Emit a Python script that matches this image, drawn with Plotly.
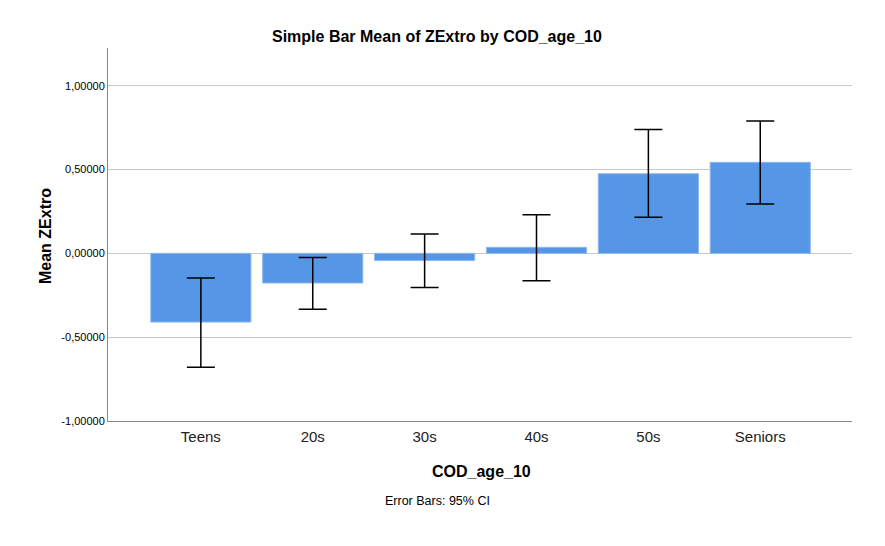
import plotly.graph_objects as go

categories = ["Teens", "20s", "30s", "40s", "50s", "Seniors"]
means = [-0.410, -0.177, -0.043, 0.036, 0.475, 0.543]
ci_upper = [-0.147, -0.025, 0.116, 0.230, 0.739, 0.790]
ci_lower = [-0.680, -0.334, -0.203, -0.163, 0.215, 0.295]
y_ticks = [-1.0, -0.5, 0.0, 0.5, 1.0]
y_tick_labels = ["-1,00000", "-0,50000", "0,00000", "0,50000", "1,00000"]

err_plus = [u - m for u, m in zip(ci_upper, means)]
err_minus = [m - l for m, l in zip(means, ci_lower)]

OFF = 8  # page body margin
W, H = 885 - OFF, 546 - OFF
L, R, T, B = 100, 33, 40, 125
PW, PH = W - L - R, H - T - B


def px(x):
    return (x - OFF - L) / PW


def py(y):
    return (H - B - (y - OFF)) / PH


fig = go.Figure()
fig.add_trace(go.Bar(
    x=categories, y=means,
    marker=dict(color="#5596e6", line=dict(color="#8db8ee", width=1)),
    error_y=dict(type="data", symmetric=False, array=err_plus, arrayminus=err_minus,
                 color="#000000", thickness=1.5, width=14),
    width=0.895,
))

fig.update_layout(
    width=W, height=H,
    margin=dict(l=L, r=R, t=T, b=B),
    paper_bgcolor="white", plot_bgcolor="white",
    showlegend=False,
    font=dict(family="Liberation Sans, Arial, sans-serif", color="#000000"),
    xaxis=dict(
        type="category", range=[-0.83, 5.82],
        showgrid=False, showline=True, linecolor="#888888", linewidth=1,
        ticks="", ticklabelstandoff=2,
        tickfont=dict(size=15, family="Liberation Sans Narrow, Arial Narrow, Liberation Sans", color="#222222"),
        zeroline=False,
    ),
    yaxis=dict(
        range=[-1.0, 1.225],
        tickvals=y_ticks, ticktext=y_tick_labels,
        showgrid=True, gridcolor="#c8c8c8", gridwidth=1,
        showline=True, linecolor="#888888", linewidth=1,
        ticks="", tickfont=dict(size=11, color="#000000"),
        zeroline=True, zerolinecolor="#c8c8c8", zerolinewidth=1,
    ),
    annotations=[
        dict(text="<b>Simple Bar Mean of ZExtro by COD_age_10</b>", xref="paper", yref="paper",
             x=px(437), y=py(37), xanchor="center", yanchor="middle",
             showarrow=False, font=dict(size=16)),
        dict(text="<b>COD_age_10</b>", xref="paper", yref="paper",
             x=px(481), y=py(471), xanchor="center", yanchor="middle",
             showarrow=False, font=dict(size=16)),
        dict(text="<b>Mean ZExtro</b>", xref="paper", yref="paper",
             x=px(45), y=py(236), xanchor="center", yanchor="middle",
             textangle=-90, showarrow=False, font=dict(size=16)),
        dict(text="Error Bars: 95% CI", xref="paper", yref="paper",
             x=px(437), y=py(501), xanchor="center", yanchor="middle",
             showarrow=False, font=dict(size=12.5, family="Liberation Sans Narrow, Arial Narrow, Liberation Sans")),
    ],
)

fig.write_html("out.html")
